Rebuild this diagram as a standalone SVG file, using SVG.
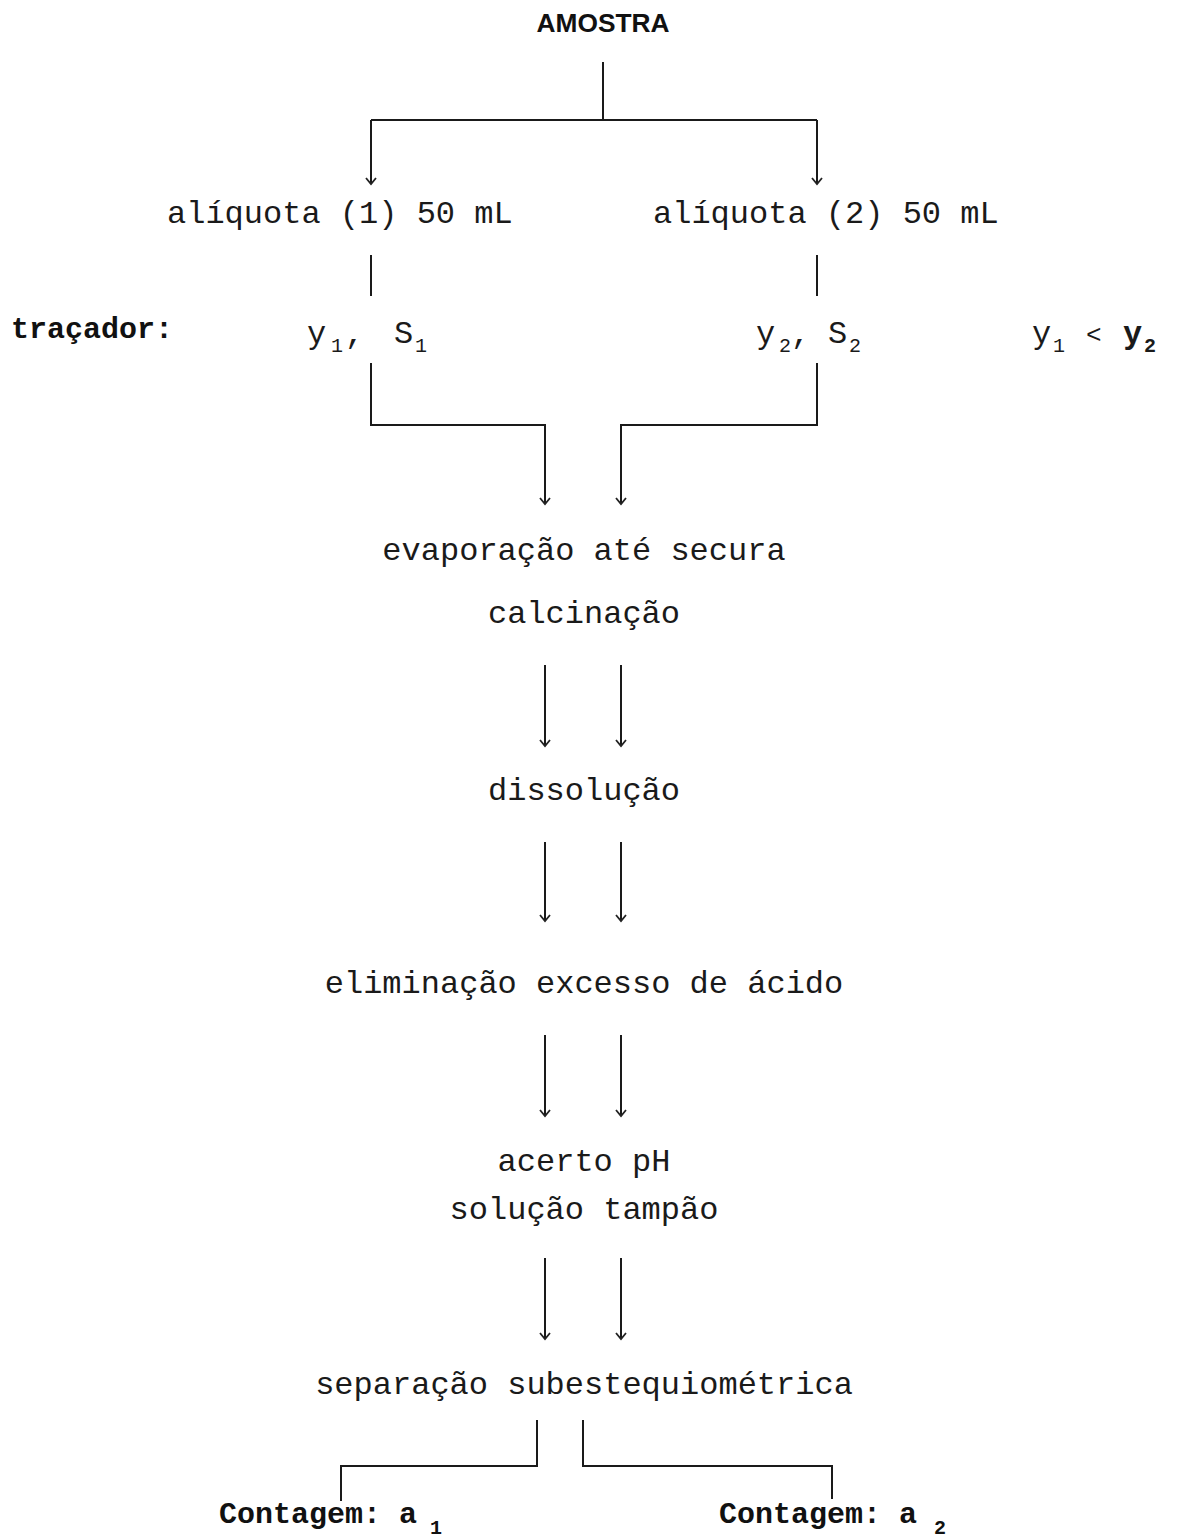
<svg xmlns="http://www.w3.org/2000/svg" width="1177" height="1538" viewBox="0 0 1177 1538">
<defs>
<marker id="ah" markerWidth="10" markerHeight="12" refX="8" refY="6" orient="auto" markerUnits="userSpaceOnUse" viewBox="0 0 10 12">
<path d="M2,1 L8,6 L2,11" fill="none" stroke="#222" stroke-width="1.8"/>
</marker>
<style>
.t{font-family:"Liberation Mono","DejaVu Sans Mono",monospace;font-size:32px;fill:#1a1a1a}
.b{font-family:"Liberation Mono","DejaVu Sans Mono",monospace;font-size:30px;font-weight:bold;fill:#111}
.s{font-size:20px}
.ln{fill:none;stroke:#1a1a1a;stroke-width:2}
.ar{fill:none;stroke:#1a1a1a;stroke-width:2;marker-end:url(#ah)}
</style>
</defs>
<rect width="1177" height="1538" fill="#fff"/>
<g id="connectors">
<path class="ln" d="M603,62 V120"/>
<path class="ln" d="M371,120 H817"/>
<path class="ar" d="M371,120 V184"/>
<path class="ar" d="M817,120 V184"/>
<path class="ln" d="M371,255 V296"/>
<path class="ln" d="M817,255 V296"/>
<path class="ar" d="M371,363 V425 H545 V504"/>
<path class="ar" d="M817,363 V425 H621 V504"/>
<path class="ar" d="M545,665 V746"/>
<path class="ar" d="M621,665 V746"/>
<path class="ar" d="M545,842 V921"/>
<path class="ar" d="M621,842 V921"/>
<path class="ar" d="M545,1035 V1116"/>
<path class="ar" d="M621,1035 V1116"/>
<path class="ar" d="M545,1258 V1339"/>
<path class="ar" d="M621,1258 V1339"/>
<path class="ln" d="M537,1420 V1466 H341 V1501"/>
<path class="ln" d="M583,1420 V1466 H832 V1499"/>
</g>
<g id="amostra"><text x="603" y="32" text-anchor="middle" textLength="133" lengthAdjust="spacingAndGlyphs" style="font-family:'Liberation Sans',sans-serif;font-weight:bold;font-size:26px;fill:#111">AMOSTRA</text></g>
<g id="aliquota1"><text class="t" x="167" y="223">alíquota (1) 50 mL</text></g>
<g id="aliquota2"><text class="t" x="653" y="223">alíquota (2) 50 mL</text></g>
<g id="tracador"><text class="b" x="11" y="338">traçador:</text></g>
<g id="tracador1"><text class="t" x="307" y="343">y<tspan class="s" x="331" y="352">1</tspan><tspan x="345" y="343">,</tspan><tspan x="394" y="343">S</tspan><tspan class="s" x="415" y="352">1</tspan></text></g>
<g id="tracador2"><text class="t" x="756" y="343">y<tspan class="s" x="779" y="352">2</tspan><tspan x="791" y="343">,</tspan><tspan x="828" y="343">S</tspan><tspan class="s" x="849" y="352">2</tspan></text></g>
<g id="relacao"><text class="t" x="1032" y="343">y<tspan class="s" x="1053" y="352">1</tspan><tspan x="1086" y="343" style="font-size:26px">&lt;</tspan><tspan x="1123" y="343" style="font-weight:bold">y</tspan><tspan class="s" x="1144" y="352" style="font-weight:bold">2</tspan></text></g>
<g id="evaporacao"><text class="t" x="584" y="560" text-anchor="middle">evaporação até secura</text>
<text class="t" x="584" y="623" text-anchor="middle">calcinação</text></g>
<g id="dissolucao"><text class="t" x="584" y="800" text-anchor="middle">dissolução</text></g>
<g id="eliminacao"><text class="t" x="584" y="993" text-anchor="middle">eliminação excesso de ácido</text></g>
<g id="acerto"><text class="t" x="584" y="1171" text-anchor="middle">acerto pH</text>
<text class="t" x="584" y="1219" text-anchor="middle">solução tampão</text></g>
<g id="separacao"><text class="t" x="584" y="1394" text-anchor="middle">separação subestequiométrica</text></g>
<g id="contagem1"><text class="b" x="219" y="1523">Contagem: a<tspan class="s" x="430" y="1534">1</tspan></text></g>
<g id="contagem2"><text class="b" x="719" y="1523">Contagem: a<tspan class="s" x="934" y="1534">2</tspan></text></g>
</svg>
